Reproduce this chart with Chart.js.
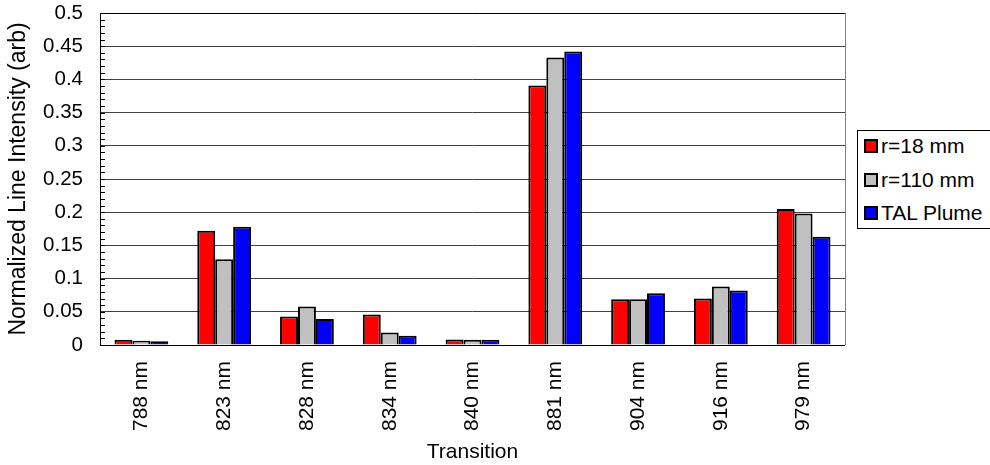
<!DOCTYPE html>
<html>
<head>
<meta charset="utf-8">
<script src="https://cdn.jsdelivr.net/npm/chart.js@4/dist/chart.umd.min.js"></script>
<style>
  html, body { margin: 0; padding: 0; background: #fff; }
  #wrap { width: 990px; height: 465px; position: relative; font-family: Arial, "Liberation Sans", Helvetica, sans-serif; }
  #legend {
    position: absolute; left: 857px; top: 130px; width: 132px; height: 97px;
    border: 1px solid #000; box-sizing: content-box; background: #fff;
  }
  #legend .item { position: absolute; left: 6px; height: 24px; line-height: 24px; font-size: 21px; color: #000; white-space: nowrap; }
  #legend .sw { display: inline-block; width: 10px; height: 10px; border: 2px solid #000; margin-right: 3px; vertical-align: 0px; }
</style>
</head>
<body>
<div id="wrap">
  <canvas id="c" width="990" height="465"></canvas>
  <div id="legend"></div>
</div>
<script>
// Emission lines (transition wavelengths)
const categories = ['788 nm', '823 nm', '828 nm', '834 nm', '840 nm', '881 nm', '904 nm', '916 nm', '979 nm'];

// Normalized line intensities per source
const seriesNames = ['r=18 mm', 'r=110 mm', 'TAL Plume'];
const r18 = [0.008, 0.172, 0.043, 0.046, 0.0083, 0.391, 0.069, 0.070, 0.205];
const r110 = [0.0065, 0.129, 0.058, 0.019, 0.008, 0.433, 0.069, 0.088, 0.198];
const talPlume = [0.0055, 0.178, 0.039, 0.014, 0.008, 0.442, 0.078, 0.082, 0.163];

// Y axis ticks
const yTicks = [0, 0.05, 0.1, 0.15, 0.2, 0.25, 0.3, 0.35, 0.4, 0.45, 0.5];
const yMinorStep = 0.01;

const colors = ['#FF0000', '#C0C0C0', '#0000FF'];
const FONT = 'Arial, "Liberation Sans", Helvetica, sans-serif';

// Minor/major tick marks inside the plot along the left axis, plus frame edges.
const frameAndTicks = {
  id: 'frameAndTicks',
  afterDraw(chart) {
    const { ctx, chartArea: a, scales: { y } } = chart;
    ctx.save();
    ctx.strokeStyle = '#000';
    ctx.lineWidth = 1;
    const n = Math.round((y.max - y.min) / yMinorStep);
    for (let i = 0; i <= n; i++) {
      const py = Math.round(y.getPixelForValue(y.min + i * yMinorStep)) + 0.5;
      ctx.beginPath();
      ctx.moveTo(a.left, py);
      ctx.lineTo(a.left + 5, py);
      ctx.stroke();
    }
    // right frame edge
    ctx.strokeStyle = '#808080';
    ctx.beginPath();
    ctx.moveTo(Math.round(a.right) + 0.5, a.top);
    ctx.lineTo(Math.round(a.right) + 0.5, a.bottom);
    ctx.stroke();
    // top edge
    ctx.strokeStyle = '#000';
    ctx.beginPath();
    ctx.moveTo(a.left, Math.round(a.top) + 0.5);
    ctx.lineTo(a.right, Math.round(a.top) + 0.5);
    ctx.stroke();
    // left and bottom axis lines
    ctx.beginPath();
    ctx.moveTo(Math.round(a.left) + 0.5, a.top);
    ctx.lineTo(Math.round(a.left) + 0.5, Math.round(a.bottom) + 0.5);
    ctx.lineTo(a.right, Math.round(a.bottom) + 0.5);
    ctx.stroke();
    ctx.restore();
  }
};

const datasets = [r18, r110, talPlume].map((vals, i) => ({
  label: seriesNames[i],
  data: vals,
  backgroundColor: colors[i],
  borderColor: '#000',
  borderWidth: 2,
  borderSkipped: 'bottom',
  categoryPercentage: 0.65,
  barPercentage: 1.0
}));

const chart = new Chart(document.getElementById('c'), {
  type: 'bar',
  data: { labels: categories, datasets },
  plugins: [frameAndTicks],
  options: {
    responsive: false,
    animation: false,
    layout: { padding: { top: 13, left: 0, right: 145, bottom: 0 } },
    plugins: {
      legend: { display: false },
      tooltip: { enabled: false }
    },
    scales: {
      x: {
        grid: { display: false, drawTicks: false },
        border: { display: false },
        ticks: {
          color: '#000',
          font: { family: FONT, size: 21 },
          minRotation: 90,
          maxRotation: 90,
          padding: 16
        },
        title: {
          display: true,
          text: 'Transition',
          color: '#000',
          font: { family: FONT, size: 21 },
          padding: { top: 4, bottom: 0 }
        },
        afterFit(s) { s.height = 120; s.paddingLeft = 0; s.paddingRight = 0; }
      },
      y: {
        min: 0,
        max: 0.5,
        afterBuildTicks(s) { s.ticks = yTicks.map(v => ({ value: v })); },
        grid: { color: '#404040', lineWidth: 1, drawTicks: false },
        border: { display: false },
        ticks: {
          color: '#000',
          font: { family: FONT, size: 20.5 },
          padding: 17,
          callback: v => String(v)
        },
        title: {
          display: true,
          text: 'Normalized Line Intensity (arb)',
          color: '#000',
          font: { family: FONT, size: 23 },
          padding: { top: 5, bottom: 0 }
        },
        afterFit(s) { s.width = 100; s.paddingTop = 0; s.paddingBottom = 0; }
      }
    }
  }
});

// Legend built from the chart's own datasets
const legendEl = document.getElementById('legend');
chart.data.datasets.forEach((d, i) => {
  const row = document.createElement('div');
  row.className = 'item';
  row.style.top = (3 + i * 33.5) + 'px';
  const sw = document.createElement('span');
  sw.className = 'sw';
  sw.style.background = d.backgroundColor;
  row.appendChild(sw);
  row.appendChild(document.createTextNode(d.label));
  legendEl.appendChild(row);
});
</script>
</body>
</html>
